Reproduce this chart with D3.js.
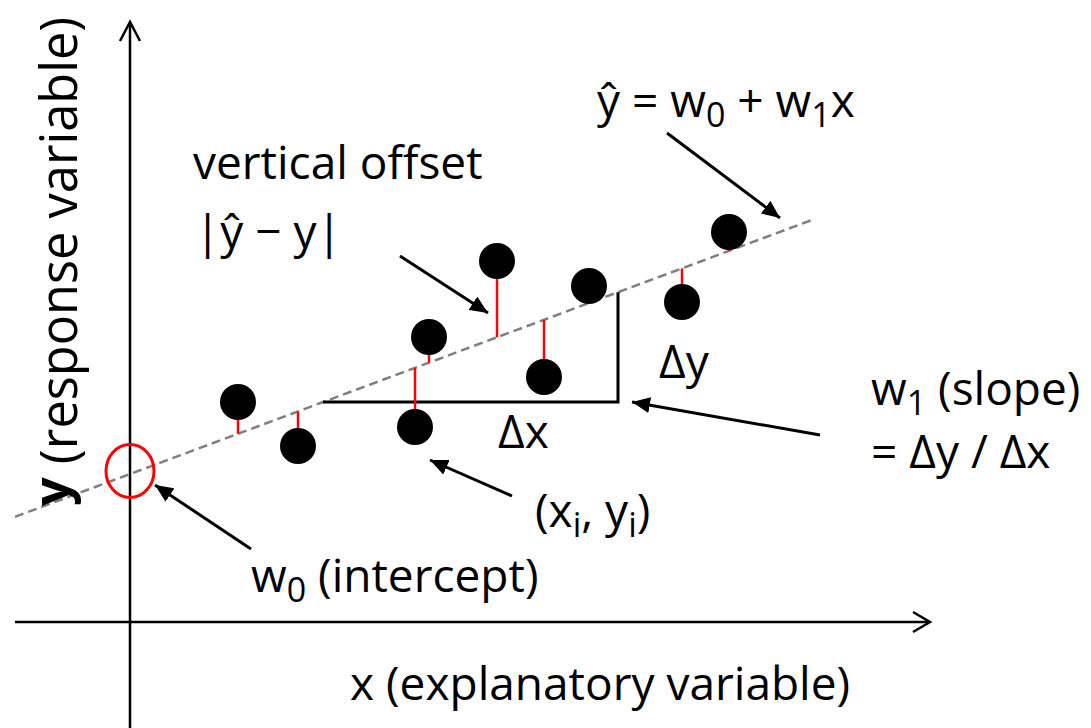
<!DOCTYPE html>
<html lang="en">
<head>
<meta charset="UTF-8">
<title>Linear regression</title>
<script src="https://cdn.jsdelivr.net/npm/d3@7/dist/d3.min.js"></script>
<style>
    body { margin: 0; background: #fff; }
    svg text { font-family: "Open Sans", sans-serif; fill: #000; }
</style>
</head>
<body>
<script>
    // sample points (x_i, y_i)
    const pointX = [10.8, 16.8, 28.5, 29.9, 36.7, 41.4, 45.9, 55.2, 59.9];
    const pointY = [22.0, 17.6, 19.5, 28.5, 36.1, 24.5, 33.6, 32.0, 39.0];

    // fitted line  y^ = w0 + w1 * x
    const w0 = 14.8;
    const w1 = 0.3725;
    const lineX = [-11.5, 68.5];

    // slope triangle (start and end of delta x)
    const deltaX = [19.3, 48.8];

    // axis extents
    const xAxisExtent = [-11.5, 80];
    const yAxisExtent = [-10.6, 60];

    // annotation arrows: [tailX, tailY, tipX, tipY]
    const arrows = [
        [53.7, 48.9, 65.0, 40.4],
        [27.0, 36.6, 35.8, 30.9],
        [69.0, 18.7, 50.2, 22.0],
        [38.2, 12.6, 30.0, 16.2],
        [12.1, 7.3, 2.5, 13.7]
    ];

    const w = 1091, h = 728;

    const svg = d3.select('body')
        .append('svg')
        .attr('width', w)
        .attr('height', h);

    // 10 px per unit on both axes, origin at (130, 622)
    const xScale = d3.scaleLinear().domain([0, 80]).range([130, 930]);
    const yScale = d3.scaleLinear().domain([0, 60]).range([622, 22]);
    const yHat = x => w0 + w1 * x;

    svg.append('defs').append('marker')
        .attr('id', 'head')
        .attr('markerUnits', 'userSpaceOnUse')
        .attr('markerWidth', 20)
        .attr('markerHeight', 16)
        .attr('refX', 18)
        .attr('refY', 8)
        .attr('orient', 'auto')
        .append('path')
        .attr('d', 'M0,0 L18,8 L0,16 Z')
        .attr('fill', '#000');

    // axes
    svg.append('line')
        .attr('x1', xScale(xAxisExtent[0])).attr('x2', xScale(xAxisExtent[1]) - 1)
        .attr('y1', yScale(0)).attr('y2', yScale(0))
        .attr('stroke', '#000').attr('stroke-width', 2.5);
    svg.append('line')
        .attr('x1', xScale(0)).attr('x2', xScale(0))
        .attr('y1', yScale(yAxisExtent[0])).attr('y2', yScale(yAxisExtent[1]) + 1)
        .attr('stroke', '#000').attr('stroke-width', 2.5);

    // open arrow heads on the axes
    const xe = xScale(xAxisExtent[1]), ye = yScale(0);
    svg.append('path')
        .attr('d', `M${xe - 17},${ye - 10} L${xe},${ye} L${xe - 17},${ye + 10}`)
        .attr('fill', 'none').attr('stroke', '#000').attr('stroke-width', 2.5);
    const xt = xScale(0), yt = yScale(yAxisExtent[1]);
    svg.append('path')
        .attr('d', `M${xt - 10},${yt + 19} L${xt},${yt} L${xt + 10},${yt + 19}`)
        .attr('fill', 'none').attr('stroke', '#000').attr('stroke-width', 2.5);

    // regression line
    svg.append('line')
        .attr('x1', xScale(lineX[0])).attr('y1', yScale(yHat(lineX[0])))
        .attr('x2', xScale(lineX[1])).attr('y2', yScale(yHat(lineX[1])))
        .attr('stroke', '#7f7f7f')
        .attr('stroke-width', 2.5)
        .attr('stroke-dasharray', '9,5');

    // slope triangle
    svg.append('path')
        .attr('d', `M${xScale(deltaX[0])},${yScale(yHat(deltaX[0]))}` +
            ` H${xScale(deltaX[1])} V${yScale(yHat(deltaX[1]))}`)
        .attr('fill', 'none')
        .attr('stroke', '#000')
        .attr('stroke-width', 3);

    const points = pointX.map((x, i) => ({x: x, y: pointY[i]}));

    // residuals
    svg.selectAll('line.res')
        .data(points)
        .enter()
        .append('line')
        .attr('class', 'res')
        .attr('x1', d => xScale(d.x)).attr('x2', d => xScale(d.x))
        .attr('y1', d => yScale(d.y)).attr('y2', d => yScale(yHat(d.x)))
        .attr('stroke', '#ff0000')
        .attr('stroke-width', 2.5);

    svg.selectAll('circle.pt')
        .data(points)
        .enter()
        .append('circle')
        .attr('class', 'pt')
        .attr('cx', d => xScale(d.x))
        .attr('cy', d => yScale(d.y))
        .attr('r', 18)
        .attr('fill', '#000');

    // intercept marker
    svg.append('ellipse')
        .attr('cx', xScale(0))
        .attr('cy', yScale(w0) - 3)
        .attr('rx', 24)
        .attr('ry', 26.5)
        .attr('fill', 'none')
        .attr('stroke', '#ff0000')
        .attr('stroke-width', 3);

    // annotation arrows
    svg.selectAll('line.arrow')
        .data(arrows)
        .enter()
        .append('line')
        .attr('class', 'arrow')
        .attr('x1', d => xScale(d[0])).attr('y1', d => yScale(d[1]))
        .attr('x2', d => xScale(d[2])).attr('y2', d => yScale(d[3]))
        .attr('stroke', '#000')
        .attr('stroke-width', 3)
        .attr('marker-end', 'url(#head)');

    // labels: parts are [text, isSubscript]
    const fs = 46, subFs = 34, subDy = 10;
    function addLabel(x, y, parts) {
        const t = svg.append('text')
            .attr('x', x).attr('y', y)
            .attr('font-size', fs);
        let down = false;
        parts.forEach(p => {
            const ts = t.append('tspan').text(p[0]);
            if (p[1]) {
                ts.attr('font-size', subFs);
                if (!down) ts.attr('dy', subDy);
                down = true;
            } else if (down) {
                ts.attr('dy', -subDy);
                down = false;
            }
        });
    }

    addLabel(193, 179, [['vertical offset']]);
    addLabel(195, 248, [['|ŷ − y|']]);
    addLabel(597, 117, [['ŷ = w'], ['0', true], [' + w'], ['1', true], ['x']]);
    addLabel(659, 378, [['Δy']]);
    addLabel(498, 448, [['Δx']]);
    addLabel(535, 527, [['(x'], ['i', true], [', y'], ['i', true], [')']]);
    addLabel(251, 592, [['w'], ['0', true], [' (intercept)']]);
    addLabel(350, 700, [['x (explanatory variable)']]);
    addLabel(871, 405, [['w'], ['1', true], [' (slope)']]);
    addLabel(871, 468, [['= Δy / Δx']]);

    const yLab = svg.append('text')
        .attr('transform', 'translate(77,506) rotate(-90)')
        .attr('font-size', 50.5);
    yLab.append('tspan').attr('font-weight', 'bold').attr('dy', -8).text('y');
    yLab.append('tspan').attr('dy', 8).text(' (response variable)');
</script>
</body>
</html>
